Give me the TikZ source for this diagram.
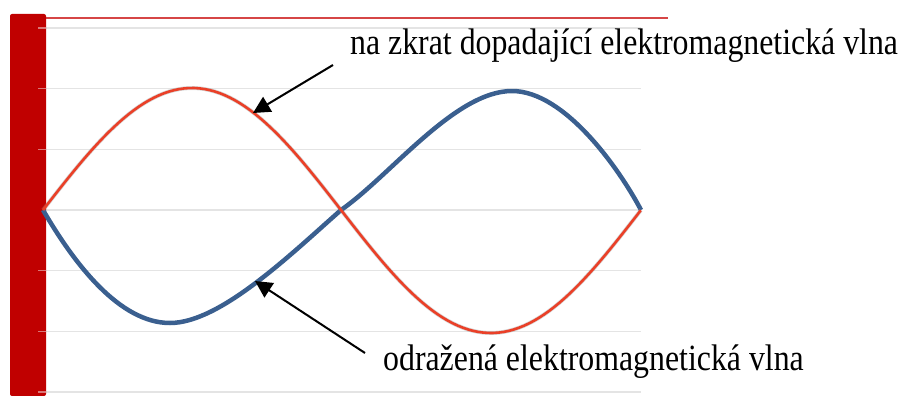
\documentclass[tikz,border=0pt]{standalone}
\usepackage{fontspec}
\newfontfamily\lblfont[FakeStretch=0.86]{Liberation Serif}
\usetikzlibrary{arrows.meta}
\definecolor{barred}{RGB}{192,0,0}
\definecolor{topred}{RGB}{214,70,70}
\definecolor{wavered}{RGB}{234,64,40}
\definecolor{waveblue}{RGB}{58,95,143}
\definecolor{gridgray}{RGB}{228,228,228}
\definecolor{tickpink}{RGB}{218,120,120}
\tikzset{
  gridline/.style={draw=gridgray, line width=1.5pt},
  barmark/.style={draw=tickpink, line width=1.3pt},
  redwave/.style={draw=wavered, line width=2.6pt, line join=round},
  redshadow/.style={draw=black!45, line width=4pt, opacity=0.35, line join=round},
  bluewave/.style={draw=waveblue, line width=4.5pt, line join=round},
  pointer/.style={draw=black, line width=2pt, -{Triangle[length=17pt,width=17pt]}},
  lbl/.style={inner sep=0pt, anchor=base west, font=\lblfont\fontsize{37}{40}\selectfont}
}
\begin{document}
\begin{tikzpicture}[x=1pt,y=-1pt]
\useasboundingbox (0,0) rectangle (905,396);
% grid
\foreach \yy in {28,88.7,149.3,210,270.7,331.3,392}{
  \draw[gridline] (46,\yy) -- (641,\yy);
}
% top red line
\draw[draw=topred, line width=2pt] (46,18) -- (668,18);
% bar
\fill[barred, rounded corners=2pt] (10,396) -- (10,14) -- (46,14) -- (46,396) -- cycle;
\foreach \yy in {28,88.7,149.3,270.7,331.3,392}{
  \draw[barmark] (38,\yy) -- (46,\yy);
}
% blue wave (reflected)
\draw[bluewave] (43,210) .. controls (75,265) and (120,323) .. (170,323)
  .. controls (220,323) and (290,255) .. (341,210)
  .. controls (390,176) and (455,91) .. (512,91)
  .. controls (565,91) and (620,170) .. (641,210);
% red wave (incident)
\draw[redshadow] plot[domain=0:1, samples=60] ({43+298*\x},{210-122*sin(180*\x)})
  -- plot[domain=0:1, samples=60] ({341+300*\x},{210+123*sin(180*\x)});
\draw[redwave] plot[domain=0:1, samples=60] ({43+298*\x},{210-122*sin(180*\x)})
  -- plot[domain=0:1, samples=60] ({341+300*\x},{210+123*sin(180*\x)});
% labels
\node[lbl] (t1) at (350,55) {na zkrat dopadající elektromagnetická vlna};
\node[lbl] (t2) at (383,370) {odražená elektromagnetická vlna};
% arrows
\coordinate (a1s) at (333,65);
\coordinate (a1e) at (253,113);
\coordinate (a2s) at (365,353);
\coordinate (a2e) at (255,281);
\draw[pointer] (a1s) -- (a1e);
\draw[pointer] (a2s) -- (a2e);
\end{tikzpicture}
\end{document}
